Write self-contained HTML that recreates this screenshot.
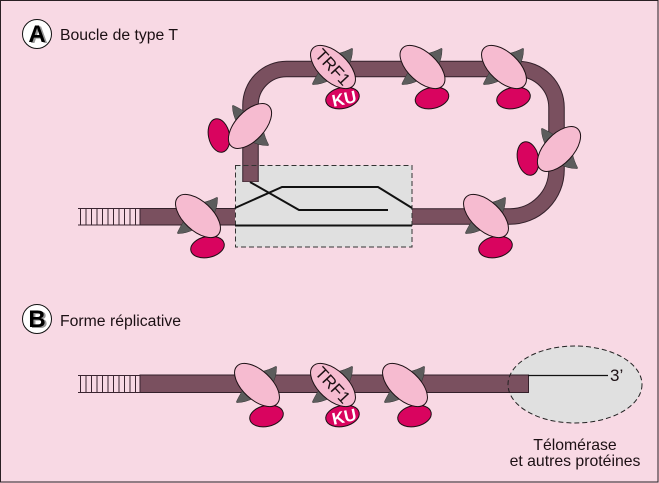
<!DOCTYPE html>
<html>
<head>
<meta charset="utf-8">
<style>
html,body{margin:0;padding:0;background:#f8d9e4}
svg{display:block;font-family:"Liberation Sans",sans-serif}
</style>
</head>
<body>
<svg width="659" height="483" viewBox="0 0 659 483" xmlns="http://www.w3.org/2000/svg">
<defs>
<g id="p">
  <path d="M3,-13 Q12,-15 18.500,-18.500 Q20,-19 19.500,-17 Q19.500,-9 15.500,-1 Q8,-6 3,-13Z" fill="#5c5c5c" stroke="#333" stroke-width=".5"/>
  <path d="M-13,3 Q-18,11 -20.500,16.500 Q-21,18 -19,17.500 Q-12,17.500 -3,13 Q-9,8 -13,3Z" fill="#5c5c5c" stroke="#333" stroke-width=".5"/>
  <ellipse cx="9.500" cy="31" rx="17" ry="10.500" transform="rotate(-12 9.500 31)" fill="#d9045f" stroke="#1c1014" stroke-width="1"/>
  <ellipse cx="0" cy="0" rx="27.500" ry="14.500" transform="rotate(43)" fill="#f6bbd0" stroke="#1c1014" stroke-width="1"/>
</g>
</defs>
<rect x="0" y="0" width="659" height="483" fill="#f8d9e4"/>
<rect x=".5" y=".5" width="657.500" height="481.500" fill="none" stroke="#2a2024" stroke-width="1"/>

<!-- A box -->
<rect x="235.500" y="165.500" width="176.500" height="81.500" fill="#e0e0e0"/>

<!-- A tube -->
<path d="M250.500,182 V105 A36,36 0 0 1 286.500,69 H518 A38.500,38.500 0 0 1 556.500,107.500 V170 A46.500,46.500 0 0 1 510,216.500 H412" fill="none" stroke="#33202a" stroke-width="16.500"/>
<path d="M250.500,181.500 V105 A36,36 0 0 1 286.500,69 H518 A38.500,38.500 0 0 1 556.500,107.500 V170 A46.500,46.500 0 0 1 510,216.500 H412" fill="none" stroke="#7a505f" stroke-width="14.500"/>
<rect x="140" y="208" width="95" height="17.500" fill="#7a505f"/>
<path d="M140,208.500H235M140,225H235" stroke="#33202a" stroke-width="1"/>
<rect x="235.500" y="165.500" width="176.500" height="81.500" fill="none" stroke="#333" stroke-width="1" stroke-dasharray="5 3"/>

<!-- A lines -->
<path d="M235,208 L282,187 H378 L412,208" fill="none" stroke="#111" stroke-width="2"/>
<path d="M250,182 L299,210 H388" fill="none" stroke="#111" stroke-width="2"/>
<path d="M235,225.500 H412" fill="none" stroke="#111" stroke-width="2"/>
<path d="M78,208.500H140M78,225H140M80.500,209V225M86,209V225M91.500,209V225M97,209V225M102.500,209V225M108,209V225M113.500,209V225M119,209V225M124.500,209V225M130,209V225M135.500,209V225M140,208V225" stroke="#3a2530" stroke-width="1" fill="none"/>

<use href="#p" x="198" y="216"/>
<use href="#p" x="333" y="67"/>
<use href="#p" x="422.500" y="67"/>
<use href="#p" x="504" y="67"/>
<use href="#p" x="486" y="216"/>
<use href="#p" transform="translate(250 126) rotate(90)"/>
<use href="#p" transform="translate(559 149) rotate(90)"/>

<text transform="translate(333 67) rotate(47)" text-anchor="middle" y="6" font-size="17" fill="#1c1014">TRF1</text>
<text transform="translate(344 98) rotate(-12)" text-anchor="middle" y="6.500" font-size="17" font-weight="bold" fill="#fff">KU</text>

<!-- labels -->
<circle cx="37" cy="34" r="14.500" fill="#fff" stroke="#111" stroke-width="1"/>
<text x="39" y="43" text-anchor="middle" font-size="24" font-weight="bold" fill="#999">A</text>
<text x="37" y="42" text-anchor="middle" font-size="24" font-weight="bold" fill="#000">A</text>
<text x="60" y="40" font-size="15.500" textLength="118" lengthAdjust="spacingAndGlyphs" fill="#1c1014">Boucle de type T</text>

<circle cx="37" cy="319" r="14.500" fill="#fff" stroke="#111" stroke-width="1"/>
<text x="39" y="328" text-anchor="middle" font-size="24" font-weight="bold" fill="#999">B</text>
<text x="37" y="327" text-anchor="middle" font-size="24" font-weight="bold" fill="#000">B</text>
<text x="60" y="326" font-size="15.500" textLength="121" lengthAdjust="spacingAndGlyphs" fill="#1c1014">Forme réplicative</text>

<!-- B -->
<ellipse cx="575" cy="384.500" rx="67" ry="38.500" fill="#e0e0e0"/>
<rect x="140" y="375" width="388.500" height="17.500" fill="#7a505f" stroke="#33202a" stroke-width="1"/>
<ellipse cx="575" cy="384.500" rx="67" ry="38.500" fill="none" stroke="#222" stroke-width="1" stroke-dasharray="5 3"/>
<path d="M528,375.500 H608" stroke="#111" stroke-width="1.200"/>
<text x="610" y="381" font-size="17" fill="#1c1014">3’</text>
<path d="M78,375.500H140M78,392.500H140M80.500,376V392M86,376V392M91.500,376V392M97,376V392M102.500,376V392M108,376V392M113.500,376V392M119,376V392M124.500,376V392M130,376V392M135.500,376V392M140,375V392" stroke="#3a2530" stroke-width="1" fill="none"/>

<use href="#p" x="257" y="385"/>
<use href="#p" x="333" y="385"/>
<use href="#p" x="405" y="385"/>

<text transform="translate(333 385) rotate(47)" text-anchor="middle" y="6" font-size="17" fill="#1c1014">TRF1</text>
<text transform="translate(344 416) rotate(-12)" text-anchor="middle" y="6.500" font-size="17" font-weight="bold" fill="#fff">KU</text>

<text x="575" y="450" text-anchor="middle" font-size="15.800" fill="#1c1014">Télomérase</text>
<text x="575" y="466" text-anchor="middle" font-size="15.800" fill="#1c1014">et autres protéines</text>
</svg>
</body>
</html>
